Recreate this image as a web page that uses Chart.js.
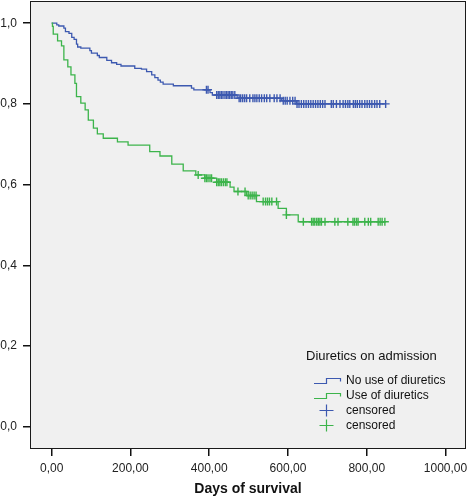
<!DOCTYPE html>
<html lang="en">
<head>
<meta charset="UTF-8">
<title>Survival</title>
<script src="https://cdn.jsdelivr.net/npm/chart.js@4.4.1/dist/chart.umd.min.js"></script>
<style>
    body {
        margin: 0;
        background: #fff;
        font-family: Arial, "Liberation Sans", Helvetica, sans-serif;
    }
    .wrap {
        position: relative;
        width: 468px;
        height: 500px;
    }
    .legend {
        position: absolute;
        left: 0;
        top: 0;
        color: #111;
        font-size: 12px;
    }
    .legend .title {
        position: absolute;
        left: 306px;
        top: 348px;
        font-size: 13px;
        white-space: nowrap;
    }
    .legend .item {
        position: absolute;
        left: 312px;
        height: 15px;
        line-height: 15px;
        white-space: nowrap;
    }
    .legend svg {
        position: absolute;
        left: 0;
        top: 0;
    }
    .legend .item span {
        position: absolute;
        left: 34px;
        top: 0;
    }
</style>
</head>
<body>
<div class="wrap">
    <canvas id="km" width="468" height="500"></canvas>
    <div class="legend">
        <div class="title">Diuretics on admission</div>
        <div class="item" style="top:373px">
            <svg width="32" height="15"><path d="M2 10.5 H14.5 V5.5 H28.5 V8.5" fill="none" stroke="#3d59b0" stroke-width="1.2"/></svg>
            <span>No use of diuretics</span>
        </div>
        <div class="item" style="top:388px">
            <svg width="32" height="15"><path d="M2 10.5 H14.5 V5.5 H28.5 V8.5" fill="none" stroke="#3cb44b" stroke-width="1.2"/></svg>
            <span>Use of diuretics</span>
        </div>
        <div class="item" style="top:403px">
            <svg width="32" height="15"><path d="M7.5 7.5 H21.5 M14.5 1.5 V13.5" fill="none" stroke="#3d59b0" stroke-width="1.2"/></svg>
            <span>censored</span>
        </div>
        <div class="item" style="top:418px">
            <svg width="32" height="15"><path d="M7.5 7.5 H21.5 M14.5 1.5 V13.5" fill="none" stroke="#3cb44b" stroke-width="1.2"/></svg>
            <span>censored</span>
        </div>
    </div>
</div>
<script>
    // step times (days) and survival after each step
    const noDiurTimes = [0, 13, 18, 31, 35, 44, 51, 57, 63, 66, 74, 97, 101, 116, 121, 140, 152, 165, 176, 211, 228, 241, 254, 262, 270, 276, 283, 309, 355, 361, 402, 408, 471, 584, 622, 848]
    const noDiurSurv  = [1.0, 0.996, 0.993, 0.988, 0.979, 0.975, 0.965, 0.960, 0.948, 0.941, 0.938, 0.932, 0.926, 0.920, 0.915, 0.908, 0.902, 0.898, 0.894, 0.888, 0.886, 0.880, 0.872, 0.865, 0.859, 0.854, 0.849, 0.845, 0.839, 0.835, 0.828, 0.822, 0.814, 0.808, 0.800, 0.800]

    const diurTimes = [0, 2, 4, 15, 25, 31, 41, 49, 59, 63, 74, 85, 93, 106, 116, 131, 167, 194, 249, 275, 305, 334, 366, 389, 419, 453, 463, 495, 520, 575, 596, 626, 846]
    const diurSurv  = [1.0, 0.992, 0.973, 0.956, 0.944, 0.909, 0.892, 0.872, 0.851, 0.818, 0.802, 0.785, 0.760, 0.740, 0.726, 0.715, 0.706, 0.698, 0.682, 0.671, 0.651, 0.634, 0.624, 0.616, 0.606, 0.594, 0.583, 0.573, 0.558, 0.541, 0.525, 0.508, 0.508]

    // censored times
    const noDiurCensored = [393, 397, 419, 423, 427, 431, 435, 440, 444, 448, 452, 456, 460, 465, 476, 480, 485, 490, 495, 503, 511, 516, 521, 527, 533, 540, 546, 554, 565, 572, 580, 588, 593, 598, 605, 612, 618, 623, 628, 634, 640, 646, 652, 658, 664, 670, 676, 682, 688, 694, 710, 715, 723, 732, 740, 746, 752, 757, 766, 771, 776, 782, 788, 795, 801, 807, 813, 820, 826, 833, 848]
    const diurCensored = [372, 389, 393, 397, 402, 406, 419, 423, 427, 431, 436, 441, 445, 473, 491, 499, 504, 509, 514, 519, 537, 543, 548, 553, 559, 571, 596, 639, 660, 664, 668, 673, 677, 681, 685, 694, 719, 727, 752, 765, 769, 774, 778, 795, 804, 810, 829, 834, 839, 846]

    const xTicks = [0, 200, 400, 600, 800, 1000]
    const yTicks = [0, 0.2, 0.4, 0.6, 0.8, 1.0]

    const BLUE = '#3d59b0'
    const GREEN = '#3cb44b'

    const survAt = (times, surv, t) => {
        let v = surv[0]
        for (let i = 0; i < times.length; i++) {
            if (times[i] <= t) v = surv[i]
        }
        return v
    }

    const steps = (times, surv) => times.map((t, i) => ({ x: t, y: surv[i] }))
    const marks = (cens, times, surv) => cens.map(t => ({ x: t, y: survAt(times, surv, t) }))

    const plotFrame = {
        id: 'plotFrame',
        beforeDatasetsDraw(chart) {
            const { ctx, chartArea: a } = chart
            ctx.save()
            ctx.fillStyle = '#f0f0f0'
            ctx.fillRect(a.left, a.top, a.right - a.left, a.bottom - a.top)
            ctx.restore()
        },
        afterDraw(chart) {
            const { ctx, chartArea: a } = chart
            ctx.save()
            ctx.strokeStyle = '#1a1a1a'
            ctx.lineWidth = 1
            ctx.strokeRect(a.left + 0.5, a.top + 0.5, a.right - a.left - 1, a.bottom - a.top - 1)
            ctx.restore()
        }
    }

    const comma = (v, d) => v.toFixed(d).replace('.', ',')

    new Chart('km', {
        type: 'line',
        data: {
            datasets: [{
                data: steps(diurTimes, diurSurv),
                borderColor: GREEN,
                borderWidth: 1.3,
                stepped: 'before',
                pointRadius: 0,
                fill: false
            }, {
                data: steps(noDiurTimes, noDiurSurv),
                borderColor: BLUE,
                borderWidth: 1.3,
                stepped: 'before',
                pointRadius: 0,
                fill: false
            }, {
                data: marks(diurCensored, diurTimes, diurSurv),
                showLine: false,
                pointStyle: 'cross',
                pointRadius: 4,
                borderColor: GREEN,
                borderWidth: 1.4
            }, {
                data: marks(noDiurCensored, noDiurTimes, noDiurSurv),
                showLine: false,
                pointStyle: 'cross',
                pointRadius: 4,
                borderColor: BLUE,
                borderWidth: 1.4
            }]
        },
        options: {
            responsive: false,
            animation: false,
            layout: { autoPadding: false, padding: { left: 0, top: 1, right: 2, bottom: 0 } },
            plugins: {
                legend: { display: false },
                tooltip: { enabled: false }
            },
            scales: {
                x: {
                    type: 'linear',
                    min: -55,
                    max: 1052,
                    afterBuildTicks: s => { s.ticks = xTicks.map(v => ({ value: v })) },
                    afterFit: s => { s.height = 51; s.paddingLeft = 0; s.paddingRight = 0 },
                    grid: { drawOnChartArea: false, tickLength: 7, tickColor: '#111', lineWidth: 1.5 },
                    border: { display: false },
                    ticks: {
                        padding: 5,
                        color: '#222',
                        font: { family: 'Arial, "Liberation Sans", sans-serif', size: 12 },
                        maxRotation: 0,
                        callback: v => comma(v, 2)
                    },
                    title: {
                        display: true,
                        text: 'Days of survival',
                        color: '#111',
                        padding: { top: 2, bottom: 2 },
                        font: { family: 'Arial, "Liberation Sans", sans-serif', size: 14, weight: 'bold' }
                    }
                },
                y: {
                    min: -0.055,
                    max: 1.055,
                    afterBuildTicks: s => { s.ticks = yTicks.map(v => ({ value: v })) },
                    afterFit: s => { s.width = 30; s.paddingTop = 0; s.paddingBottom = 0 },
                    grid: { drawOnChartArea: false, tickLength: 7, tickColor: '#111', lineWidth: 1.5 },
                    border: { display: false },
                    ticks: {
                        padding: 6,
                        color: '#222',
                        font: { family: 'Arial, "Liberation Sans", sans-serif', size: 12 },
                        callback: v => comma(v, 1)
                    }
                }
            }
        },
        plugins: [plotFrame]
    })
</script>
</body>
</html>
